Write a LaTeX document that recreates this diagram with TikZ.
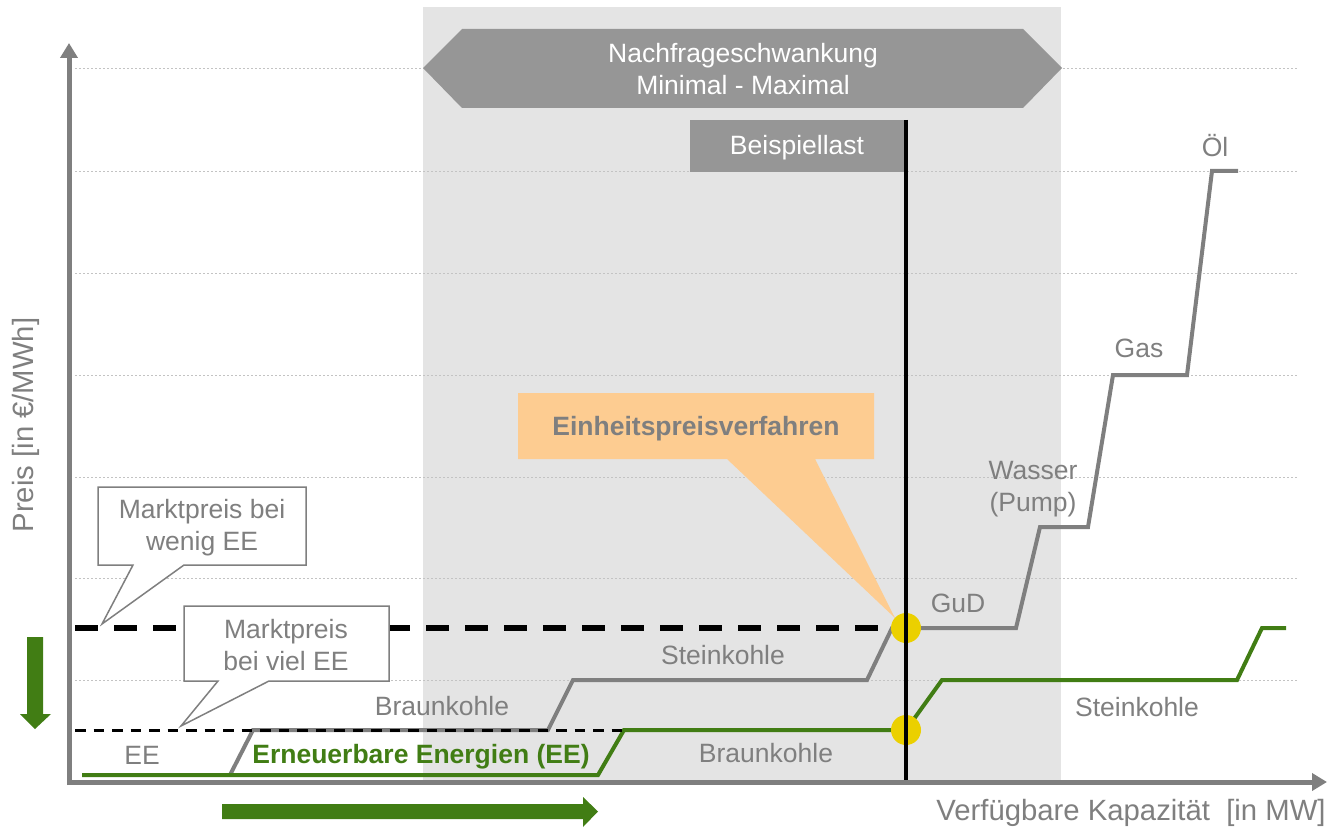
\documentclass[tikz,border=0pt]{standalone}
\usepackage{fontspec}
\setmainfont{Liberation Sans}
\usetikzlibrary{arrows.meta}
\definecolor{txtgray}{RGB}{127,127,127}
\definecolor{bggray}{RGB}{228,228,228}
\definecolor{boxgray}{RGB}{150,150,150}
\definecolor{eegreen}{RGB}{65,125,20}
\definecolor{dotyellow}{RGB}{235,208,0}
\definecolor{calloutorange}{RGB}{253,204,145}
\definecolor{gridgray}{RGB}{195,195,195}
\begin{document}
\begin{tikzpicture}[x=1pt,y=-1pt,
  lbl/.style={text=txtgray,font=\fontsize{26.5}{32}\selectfont,inner sep=0pt,align=center},
  axislbl/.style={text=txtgray,font=\fontsize{29.3}{34}\selectfont,inner sep=0pt},
  gridline/.style={gridgray,line width=1pt,dash pattern=on 2pt off 2pt},
  axisline/.style={txtgray,line width=5pt,-{Triangle[length=15pt,width=17pt]}},
  supply/.style={txtgray,line width=4pt,line join=miter},
  eecurve/.style={eegreen,line width=4pt,line join=miter},
  speech/.style={fill=white,draw=txtgray,line width=1.5pt,line join=miter},
  dot/.style={circle,fill=dotyellow,minimum size=30pt,inner sep=0pt},
  greenarrow/.style={fill=eegreen}]
\useasboundingbox (0,0) rectangle (1328,829);
% shaded demand band
\fill[bggray] (423,7) rectangle (1061,782);
% grid
\foreach \y in {69,171.5,273,375,477,578,680}
  \draw[gridline] (75,\y) -- (1298,\y);
% demand fluctuation hexagon
\fill[boxgray] (423,68) -- (462,29) -- (1023,29) -- (1062,68) -- (1023,108) -- (462,108) -- cycle;
\node[lbl,text=white] (nachfrage) at (743,69) {Nachfrageschwankung\\Minimal - Maximal};
% example load box
\fill[boxgray] (690,120) rectangle (906,172);
\node[lbl,text=white] (beispiel) at (797,148) {Beispiellast};
% market price lines
\coordinate (pwenigL) at (75,628);
\coordinate (pvielL) at (75,730);
\coordinate (pvielR) at (625,730);
% orange callout
\fill[calloutorange] (518,393) -- (874,393) -- (874,459) -- (815,459) -- (895,618) -- (727,459) -- (518,459) -- cycle;
\node[lbl,font=\fontsize{26.5}{32}\selectfont\bfseries] (einheit) at (696,429) {Einheitspreisverfahren};
% supply curve (wenig EE)
\draw[supply] (230,775) -- (253,730) -- (548,730) -- (573,680) -- (867,680) -- (892,628)
  -- (1016,628) -- (1040,527) -- (1088,527) -- (1113,375) -- (1187,375) -- (1212,171) -- (1238,171);
% supply curve (viel EE)
\draw[eecurve] (82,775) -- (598,775) -- (624,730) -- (906,730) -- (942,680) -- (1237,680) -- (1262,628) -- (1286,628);
% dashed price lines
\draw[black,line width=3pt,dash pattern=on 10.5pt off 8pt] (pvielL) -- (pvielR);
\draw[black,line width=5.3pt,dash pattern=on 22.6pt off 16.4pt] (pwenigL) -- (906,628);
% intersection dots
\node[dot] (dotA) at (906,628) {};
\node[dot] (dotB) at (906,730) {};
% example load line
\coordinate (lastTop) at (906,120);
\coordinate (lastBot) at (906,782);
\draw[black,line width=3.5pt] (lastTop) -- (lastBot);
% speech callouts
\draw[speech] (98,487) -- (306,487) -- (306,565) -- (184,565) -- (102,624) -- (133,565) -- (98,565) -- cycle;
\node[lbl] (wenig) at (202,528) {Marktpreis bei\\wenig EE};
\draw[speech] (184,606) -- (389,606) -- (389,681) -- (269,681) -- (181,726) -- (218,681) -- (184,681) -- cycle;
\node[lbl] (viel) at (286,645) {Marktpreis\\bei viel EE};
% labels
\node[lbl] (braunA) at (442,706) {Braunkohle};
\node[lbl] (steinA) at (723,655) {Steinkohle};
\node[lbl] (ee) at (142,755) {EE};
\node[lbl,text=eegreen,font=\fontsize{26.5}{32}\selectfont\bfseries] (eeName) at (421,757) {Erneuerbare Energien (EE)};
\node[lbl] (braunB) at (766,753) {Braunkohle};
\node[lbl] (gud) at (958,603) {GuD};
\node[lbl] (wasser) at (1033,489) {Wasser\\(Pump)};
\node[lbl] (gas) at (1139,348) {Gas};
\node[lbl] (oel) at (1215,146) {Öl};
\node[lbl] (steinB) at (1137,707) {Steinkohle};
% axes
\coordinate (origin) at (69,785);
\coordinate (ytip) at (69,43);
\coordinate (xorig) at (67,782);
\coordinate (xtip) at (1327,782);
\draw[axisline] (origin) -- (ytip);
\draw[axisline] (xorig) -- (xtip);
\node[axislbl,rotate=90] (ylabel) at (26,425) {Preis [in €/MWh]};
\node[axislbl] (xlabel) at (1131,813) {Verfügbare Kapazität\ \ [in MW]};
% green shift arrows
\fill[greenarrow] (27,637) -- (43,637) -- (43,714) -- (51,714) -- (35,729) -- (20,714) -- (27,714) -- cycle;
\fill[greenarrow] (222,804) -- (583,804) -- (583,797) -- (598,811.5) -- (583,827) -- (583,819) -- (222,819) -- cycle;
\end{tikzpicture}
\end{document}
